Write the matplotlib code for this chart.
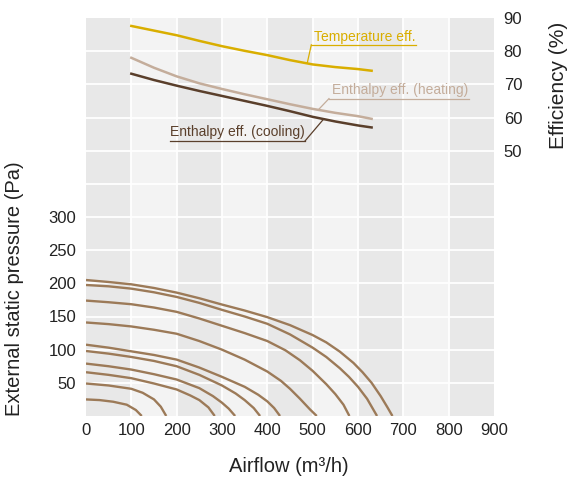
import matplotlib
matplotlib.use('Agg')
import matplotlib.pyplot as plt

plt.rcParams['font.family'] = ['Liberation Sans', 'DejaVu Sans']

# ---------------- data ----------------
x_ticks = [0, 100, 200, 300, 400, 500, 600, 700, 800, 900]
p_ticks = [50, 100, 150, 200, 250, 300]
eff_ticks = [50, 60, 70, 80, 90]

# fan curves (airflow m3/h, pressure Pa)
fan_x = [
    [0, 50, 100, 150, 200, 250, 300, 350, 400, 450, 500, 530, 560, 590, 610, 630, 650, 665, 676],
    [0, 50, 100, 150, 200, 250, 300, 350, 400, 450, 500, 530, 560, 580, 600, 620, 642],
    [0, 50, 100, 150, 200, 250, 300, 350, 400, 440, 472, 500, 530, 550, 568, 581],
    [0, 50, 100, 150, 200, 250, 300, 350, 400, 430, 450, 472, 494, 509],
    [0, 50, 100, 150, 200, 250, 300, 350, 380, 400, 415, 428],
    [0, 50, 100, 150, 200, 250, 300, 330, 350, 370, 384],
    [0, 50, 100, 150, 200, 250, 280, 300, 315, 329],
    [0, 50, 100, 150, 200, 230, 250, 270, 284],
    [0, 50, 100, 125, 150, 165, 177],
    [0, 30, 60, 90, 110, 123],
]
fan_p = [
    [205, 202, 198.5, 193, 186, 177.5, 168, 159, 149, 137, 122, 111, 97, 80, 66, 50, 30, 13, 0],
    [197.5, 195.5, 192, 186.5, 179.5, 170.5, 160, 150, 139, 123, 103, 89, 72, 59, 44, 26, 0],
    [174, 171.5, 168.5, 163.5, 157, 147, 136, 125, 113, 99, 84, 68, 48, 33, 17, 0],
    [141, 138.5, 135, 130, 124, 113, 100, 85, 67, 53, 41, 26, 10, 0],
    [107.5, 103, 97.5, 92, 85, 73, 59, 44, 32, 22, 12, 0],
    [98, 94, 89, 83, 75, 62, 46, 34, 24, 12, 0],
    [79, 75, 70, 63, 55, 42, 30, 20, 11, 0],
    [66, 62, 57, 49, 40, 31, 24, 13, 0],
    [49, 46, 41, 35, 25, 14, 0],
    [25, 24, 21.5, 17, 9, 0],
]

# efficiency curves (airflow m3/h, efficiency %)
eff_x = [100, 150, 200, 250, 300, 350, 400, 450, 500, 550, 600, 630]
temp_eff = [87.6, 86.2, 84.8, 83.1, 81.5, 80.1, 78.8, 77.3, 76.0, 75.2, 74.6, 74.1]
heat_eff = [78.0, 75.0, 72.4, 70.3, 68.6, 67.0, 65.5, 64.0, 62.6, 61.4, 60.4, 59.6]
cool_eff = [73.2, 71.3, 69.6, 68.0, 66.5, 65.0, 63.5, 61.9, 60.2, 58.8, 57.6, 57.0]

labels = ["Temperature eff.", "Enthalpy eff. (heating)", "Enthalpy eff. (cooling)"]

# ---------------- styles ----------------
c_fan = '#9c7a58'
c_temp = '#d9ae00'
c_heat = '#c4ad9b'
c_cool = '#5a3f2b'
dark_band = '#e8e8e8'
light_band = '#f3f3f3'
tick_color = '#222222'

W, H = 569, 478
fig = plt.figure(figsize=(W / 100, H / 100), dpi=100)
ax = fig.add_axes([86 / W, 1 - 416 / H, 408 / W, 398 / H])
ax.set_xlim(0, 900)
ax.set_ylim(0, 600)

for i in range(len(x_ticks) - 1):
    ax.axvspan(x_ticks[i], x_ticks[i + 1],
               color=dark_band if i % 2 == 0 else light_band, lw=0, zorder=0)
for xv in x_ticks[1:-1]:
    ax.axvline(xv, color='white', lw=1.3, zorder=1)
for yv in range(50, 600, 50):
    ax.axhline(yv, color='white', lw=1.3, zorder=1)

for xs, ps in zip(fan_x, fan_p):
    ax.plot(xs, ps, color=c_fan, lw=1.7, zorder=3, solid_capstyle='butt',
            solid_joinstyle='round')

for s in ax.spines.values():
    s.set_visible(False)
ax.set_xticks(x_ticks)
ax.set_yticks(p_ticks)
ax.tick_params(axis='both', length=0, labelsize=12, colors=tick_color)
ax.tick_params(axis='x', pad=5)
ax.tick_params(axis='y', pad=7)

ax2 = ax.twinx()
ax2.set_ylim(-30, 90)
for s in ax2.spines.values():
    s.set_visible(False)
ax2.set_yticks(eff_ticks)
ax2.tick_params(axis='y', length=0, labelsize=12, colors=tick_color, pad=7)

ax2.plot(eff_x, temp_eff, color=c_temp, lw=1.8, zorder=3, solid_joinstyle='round')
ax2.plot(eff_x, heat_eff, color=c_heat, lw=1.8, zorder=3, solid_joinstyle='round')
ax2.plot(eff_x, cool_eff, color=c_cool, lw=1.8, zorder=3, solid_joinstyle='round')

# annotations: text, underline, leader line
ann = [
    (labels[0], c_temp, (503, 84.3), (497, 728), 81.9, (488, 76.4), 'left'),
    (labels[1], c_heat, (542, 68.4), (536, 845), 65.7, (513, 62.4), 'left'),
    (labels[2], c_cool, (186, 55.5), (186, 483), 52.9, (524, 59.5), 'right'),
]
for txt, col, tpos, (ux0, ux1), uy, tip, side in ann:
    ax2.text(tpos[0], tpos[1], txt, color=col, fontsize=10, ha='left', va='center', zorder=4)
    ax2.plot([ux0, ux1], [uy, uy], color=col, lw=0.9, zorder=4)
    start = ux0 if side == 'left' else ux1
    ax2.plot([start, tip[0]], [uy, tip[1]], color=col, lw=0.9, zorder=4)

fig.text(15 / W, 1 - 289 / H, 'External static pressure (Pa)', rotation=90,
         ha='center', va='center', fontsize=14.5, color=tick_color)
fig.text(558 / W, 1 - 85 / H, 'Efficiency (%)', rotation=90,
         ha='center', va='center', fontsize=15, color=tick_color)
fig.text(289 / W, 1 - 467 / H, 'Airflow (m\u00b3/h)',
         ha='center', va='center', fontsize=14.5, color=tick_color)

fig.savefig('out.png', dpi=100)
